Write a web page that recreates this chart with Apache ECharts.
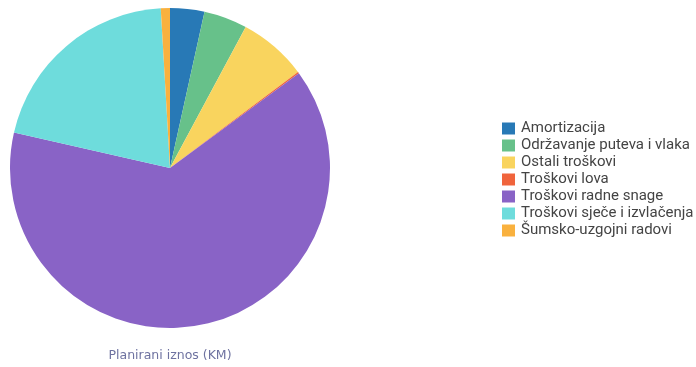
<!DOCTYPE html>
<html><head><meta charset="utf-8">
<script src="https://cdn.jsdelivr.net/npm/echarts@6/dist/echarts.min.js"></script>
<style>html,body{margin:0;padding:0;background:#fff}#c{width:696px;height:367px}</style>
</head><body><div id="c"></div>
<script>
const categories = ['Amortizacija','Održavanje puteva i vlaka','Ostali troškovi','Troškovi lova','Troškovi radne snage','Troškovi sječe i izvlačenja','Šumsko-uzgojni radovi'];
const values = [34600, 43800, 69000, 1500, 636000, 205000, 9200];
const colors = ['#2879b6','#67c18a','#f9d45e','#f0643c','#8963c6','#6edcdc','#f9b13e'];
const chart = echarts.init(document.getElementById('c'));
chart.setOption({
  animation:false,
  color: colors,
  title:{text:'Planirani iznos (KM)', left:170, top:349, textAlign:'center', padding:0,
    textStyle:{fontSize:12.5, fontWeight:'normal', color:'#6e72a0', fontFamily:'DejaVu Sans, sans-serif'}},
  legend:{orient:'vertical', left:497, top:116, itemWidth:13, itemHeight:12, itemGap:2,
    icon:'rect', textStyle:{fontSize:15, color:'#444', fontFamily:'Roboto, sans-serif', padding:[0,0,0,1]}},
  series:[{type:'pie', center:[170,168], radius:[0,160], startAngle:90, clockwise:true,
    label:{show:false}, labelLine:{show:false},
    data: categories.map((n,i)=>({name:n, value:values[i]}))}]
});
</script></body></html>
